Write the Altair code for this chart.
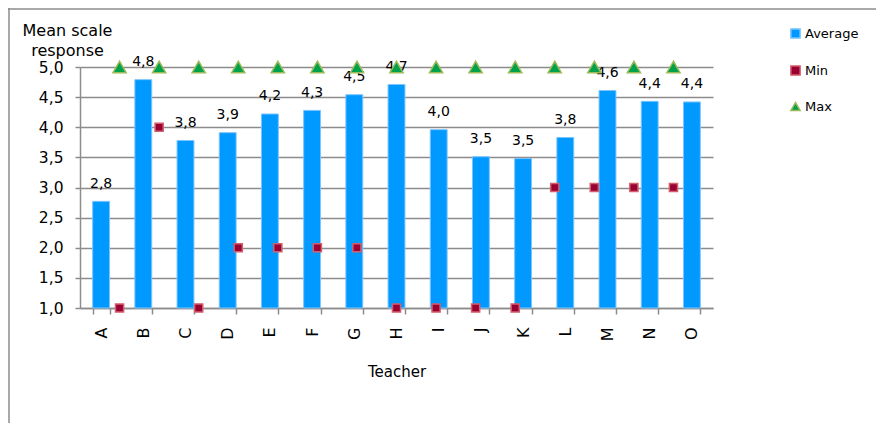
import altair as alt
import pandas as pd

teachers = ["A", "B", "C", "D", "E", "F", "G", "H", "I", "J", "K", "L", "M", "N", "O"]
average = [2.77, 4.79, 3.78, 3.91, 4.22, 4.28, 4.54, 4.71, 3.96, 3.51, 3.48, 3.83, 4.61, 4.43, 4.42]
minimum = [1, 4, 1, 2, 2, 2, 2, 1, 1, 1, 1, 3, 3, 3, 3]
maximum = [5, 5, 5, 5, 5, 5, 5, 5, 5, 5, 5, 5, 5, 5, 5]
y_ticks = [1.0, 1.5, 2.0, 2.5, 3.0, 3.5, 4.0, 4.5, 5.0]

series_names = ["Average", "Min", "Max"]
series_fill = ["#0099ff", "#990033", "#00a14b"]
series_stroke = ["#7cc4ff", "#d25f6a", "#9bbb59"]
series_shape = ["square", "square", "triangle-up"]

rows = []
for t, a, mn, mx in zip(teachers, average, minimum, maximum):
    rows.append({"teacher": t, "series": "Average", "value": a})
    rows.append({"teacher": t, "series": "Min", "value": mn})
    rows.append({"teacher": t, "series": "Max", "value": mx})
df = pd.DataFrame(rows)

FONT = "DejaVu Sans"
GRAY = "#8c8c8c"

legend = alt.Legend(title=None, orient="none", legendX=709, legendY=-40, direction="vertical")
color = alt.Color("series:N", scale=alt.Scale(domain=series_names, range=series_fill), legend=legend)
stroke = alt.Stroke("series:N", scale=alt.Scale(domain=series_names, range=series_stroke), legend=legend)
shape = alt.Shape("series:N", scale=alt.Scale(domain=series_names, range=series_shape), legend=legend)

y_scale = alt.Scale(domain=[1, 5], nice=False, zero=False)
y_axis = alt.Axis(
    values=y_ticks,
    labelExpr="replace(format(datum.value, '.1f'), '.', ',')",
    title=["Mean scale", "response"],
    titleAngle=0, titleAlign="center", titleBaseline="alphabetic",
    titleX=-13, titleY=-32, titleLineHeight=20, titleFontSize=16, titleFontWeight="normal",
    labelFontSize=15.5, tickSize=5, labelPadding=12, grid=True,
)
y_enc = alt.Y("value:Q", scale=y_scale, axis=y_axis)

band_scale = alt.Scale(paddingInner=0.6, paddingOuter=0.3)
x_bar = alt.X(
    "teacher:N", sort=teachers, scale=band_scale,
    axis=alt.Axis(title="Teacher", labelAngle=270, tickBand="extent", labelFontSize=16,
                  tickSize=6, labelPadding=13, grid=False, titleY=68, titleBaseline="alphabetic",
                  titleFontSize=15, titleFontWeight="normal"),
)
x_text = alt.X("teacher:N", sort=teachers, scale=band_scale, axis=None)
x_point = alt.X("teacher:N", sort=teachers, scale=alt.Scale(type="point", padding=1), axis=None)

base = alt.Chart(df)

bars = base.transform_filter(alt.datum.series == "Average").mark_bar(strokeWidth=1).encode(
    x=x_bar, y=y_enc, y2=alt.datum(1), color=color, stroke=stroke
)

labels = base.transform_filter(alt.datum.series == "Average").transform_calculate(
    lab="replace(format(datum.value, '.1f'), '.', ',')"
).mark_text(font=FONT, fontSize=14, dy=-13.5, baseline="alphabetic", color="black").encode(
    x=x_text, y=y_enc, text="lab:N"
)

min_pts = base.transform_filter(alt.datum.series == "Min").mark_point(
    filled=True, strokeWidth=1.5, opacity=1, size=66
).encode(x=x_point, y=y_enc, color=color, stroke=stroke, shape=shape)

max_pts = base.transform_filter(alt.datum.series == "Max").mark_point(
    filled=True, strokeWidth=1.5, opacity=1, size=175
).encode(x=x_point, y=y_enc, color=color, stroke=stroke, shape=shape)

frame_df = pd.DataFrame({"f": [0]})
frame_top = alt.Chart(frame_df).mark_rule(color=GRAY, strokeWidth=1.5).encode(
    x=alt.value(-72), x2=alt.value(796), y=alt.value(-58)
)
frame_left = alt.Chart(frame_df).mark_rule(color=GRAY, strokeWidth=1.5).encode(
    x=alt.value(-71), y=alt.value(-59), y2=alt.value(360)
)

chart = alt.layer(bars, labels, min_pts, max_pts, frame_top, frame_left).resolve_scale(
    x="independent"
).properties(
    width=633, height=241,
    autosize=alt.AutoSizeParams(type="none"),
    padding={"left": 72, "top": 59, "right": 171, "bottom": 115},
).configure_view(strokeWidth=0).configure_axis(
    labelFont=FONT, titleFont=FONT, labelColor="black", titleColor="black",
    domainColor=GRAY, tickColor=GRAY, gridColor=GRAY,
    domainWidth=1.5, tickWidth=1.5, gridWidth=1.5,
).configure_legend(
    labelFont=FONT, labelFontSize=13, labelColor="black", symbolSize=85,
    rowPadding=20, padding=0, labelOffset=3, symbolStrokeWidth=1.5, symbolOpacity=1,
)

chart.save("out.html", embed_options={"renderer": "svg", "actions": False})
